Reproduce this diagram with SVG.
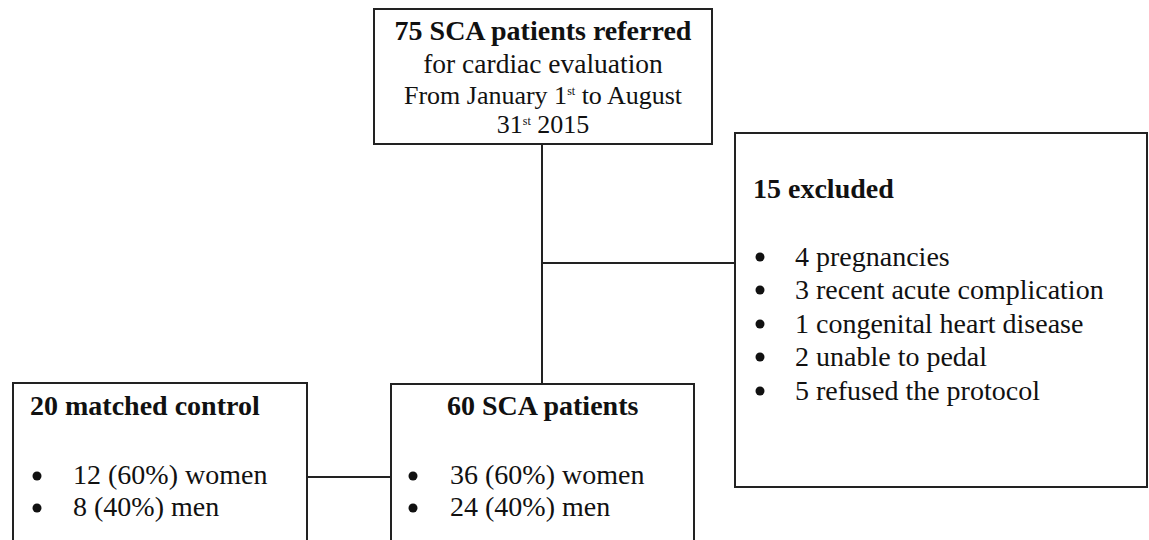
<svg xmlns="http://www.w3.org/2000/svg" width="1149" height="540" viewBox="0 0 1149 540">
<style>
.box{fill:#fff;stroke:#222;stroke-width:2}
.ln{stroke:#222;stroke-width:2;fill:none}
text{font-family:"Liberation Serif","Times New Roman",serif;fill:#111}
.b{font-weight:bold}
.t{font-size:28px}
.dot{fill:#111}
</style>
<rect width="1149" height="540" fill="#fff"/>
<g id="connectors">
<line class="ln" x1="542" y1="144" x2="542" y2="384"/>
<line class="ln" x1="542" y1="263" x2="735" y2="263"/>
<line class="ln" x1="307" y1="477" x2="391" y2="477"/>
</g>
<g id="top">
<rect class="box" x="374" y="9" width="338" height="135"/>
<text x="543" y="40" text-anchor="middle" class="b" font-size="28">75 SCA patients referred</text>
<text x="543" y="73" text-anchor="middle" font-size="27.5">for cardiac evaluation</text>
<text x="543" y="104" text-anchor="middle" font-size="26">From January 1<tspan font-size="12" dy="-9">st</tspan><tspan dy="9"> to August</tspan></text>
<text x="543" y="133" text-anchor="middle" font-size="26">31<tspan font-size="12" dy="-8">st</tspan><tspan dy="8"> 2015</tspan></text>
</g>
<g id="excluded">
<rect class="box" x="735" y="133" width="412" height="354"/>
<text x="753" y="198" class="b t">15 excluded</text>
<g class="t">
<circle class="dot" cx="760" cy="257" r="4.5"/><text x="795" y="266">4 pregnancies</text>
<circle class="dot" cx="760" cy="290" r="4.5"/><text x="795" y="299">3 recent acute complication</text>
<circle class="dot" cx="760" cy="324" r="4.5"/><text x="795" y="333">1 congenital heart disease</text>
<circle class="dot" cx="760" cy="357" r="4.5"/><text x="795" y="366">2 unable to pedal</text>
<circle class="dot" cx="760" cy="391" r="4.5"/><text x="795" y="400">5 refused the protocol</text>
</g>
</g>
<g id="control">
<rect class="box" x="13" y="383" width="294" height="170"/>
<text x="30" y="415" class="b t">20 matched control</text>
<g class="t">
<circle class="dot" cx="37" cy="476" r="4.5"/><text x="73" y="484">12 (60%) women</text>
<circle class="dot" cx="37" cy="508" r="4.5"/><text x="73" y="516">8 (40%) men</text>
</g>
</g>
<g id="sca">
<rect class="box" x="391" y="384" width="303" height="170"/>
<text x="447" y="415" class="b t">60 SCA patients</text>
<g class="t">
<circle class="dot" cx="413" cy="476" r="4.5"/><text x="450" y="484">36 (60%) women</text>
<circle class="dot" cx="413" cy="508" r="4.5"/><text x="450" y="516">24 (40%) men</text>
</g>
</g>
</svg>
